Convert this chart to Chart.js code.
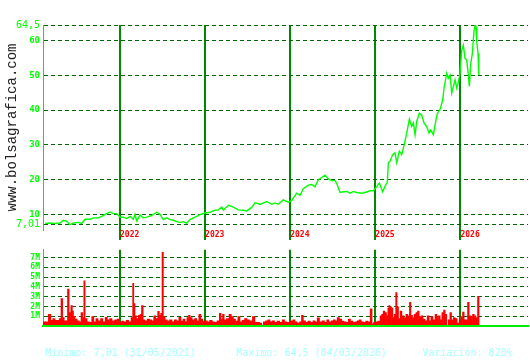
<!DOCTYPE html>
<html>
<head>
<meta charset="utf-8">
<script src="https://cdn.jsdelivr.net/npm/chart.js@4"></script>
<style>
  body{margin:0;background:#fff;width:530px;height:360px;overflow:hidden;position:relative;}
  #precio{position:absolute;left:0;top:0;}
  #vol{position:absolute;left:0;top:242px;}
  .pie{position:absolute;top:347px;font-family:'DejaVu Sans Mono',monospace;font-size:10px;line-height:12px;color:#a8ffff;white-space:pre;}
</style>
</head>
<body>
<canvas id="precio" width="530" height="242"></canvas>
<canvas id="vol" width="530" height="92"></canvas>
<div class="pie" style="left:45px">Minimo: 7,01 (31/05/2021)</div>
<div class="pie" style="left:236px">Maximo: 64,5 (04/03/2026)</div>
<div class="pie" style="left:422px">Variación: 820%</div>
<script>
// fechas en años decimales
let fechas = [
  2021.119,2021.177,2021.236,2021.295,2021.334,2021.374,2021.412,2021.451,2021.510,2021.550,
  2021.589,2021.647,2021.686,2021.745,2021.785,2021.824,2021.882,2021.921,2021.961,2022.000,
  2022.039,2022.079,2022.118,2022.156,2022.176,2022.196,2022.235,2022.274,2022.314,2022.373,
  2022.431,2022.470,2022.509,2022.549,2022.588,2022.626,2022.666,2022.705,2022.744,2022.784,
  2022.823,2022.861,2022.901,2022.940,2022.999,2023.058,2023.116,2023.155,2023.195,2023.214,
  2023.273,2023.331,2023.390,2023.449,2023.489,2023.548,2023.586,2023.645,2023.724,2023.783,
  2023.821,2023.860,2023.919,2023.978,2024.018,2024.076,2024.115,2024.154,2024.213,2024.253,
  2024.291,2024.330,2024.370,2024.409,2024.448,2024.488,2024.526,2024.546,2024.585,2024.624,
  2024.664,2024.703,2024.742,2024.781,2024.840,2024.879,2024.938,2024.977,2025.016,2025.047,
  2025.087,2025.114,2025.141,2025.153,2025.173,2025.204,2025.231,2025.252,2025.282,2025.310,
  2025.337,2025.369,2025.400,2025.428,2025.447,2025.467,2025.487,2025.517,2025.545,2025.572,
  2025.604,2025.631,2025.651,2025.682,2025.710,2025.729,2025.760,2025.792,2025.807,2025.839,
  2025.858,2025.878,2025.898,2025.917,2025.937,2025.957,2025.975,2025.995,2026.015,2026.034,
  2026.054,2026.074,2026.093,2026.105,2026.121,2026.140,2026.160,2026.175,2026.183,2026.192,
  2026.207,2026.215
];
let precios = [
  7.4,7.5,7.4,7.5,8.3,8.0,7.01,7.5,7.7,7.4,
  8.6,8.6,9.0,9.0,9.4,10.0,10.7,10.2,10.2,9.2,
  9.2,8.8,9.4,8.6,10.0,8.1,9.8,9.0,9.2,9.7,
  10.6,10.0,8.5,9.0,8.5,8.3,7.9,7.7,7.9,7.5,
  8.5,9.0,9.4,9.9,10.4,10.6,11.2,11.3,12.1,11.2,
  12.6,12.1,11.3,11.2,11.0,12.0,13.3,12.9,13.7,12.9,
  13.3,12.9,14.2,13.5,14.0,16.1,15.5,17.4,18.4,18.6,
  17.9,20.0,20.6,21.3,20.2,19.7,19.7,19.0,16.3,16.5,
  16.6,16.1,16.6,16.3,16.1,16.3,16.8,16.8,18.0,19.0,
  16.5,18.1,19.3,24.9,25.3,27.2,27.7,24.9,28.2,27.2,
  29.8,33.4,37.4,35.3,36.3,32.9,36.8,39.1,38.6,36.3,
  35.3,33.4,34.3,32.9,36.8,39.1,40.1,42.9,46.3,50.6,
  49.2,50.1,44.9,46.8,48.7,46.3,47.9,50.6,57.2,58.7,
  54.9,54.4,50.1,46.8,53.4,56.3,62.9,64.5,64.0,59.6,
  56.3,50.1
];
let fechasVol = [
  2021.107,2021.139,2021.177,2021.197,2021.224,2021.248,2021.275,2021.295,2021.318,2021.334,
  2021.354,2021.374,2021.392,2021.412,2021.432,2021.448,2021.459,2021.483,2021.510,2021.530,
  2021.553,2021.569,2021.580,2021.600,2021.627,2021.656,2021.679,2021.706,2021.726,2021.757,
  2021.785,2021.812,2021.839,2021.863,2021.891,2021.921,2021.953,2021.980,2022.004,2022.032,
  2022.059,2022.086,2022.118,2022.141,2022.156,2022.168,2022.184,2022.203,2022.227,2022.243,
  2022.262,2022.282,2022.306,2022.333,2022.361,2022.384,2022.408,2022.431,2022.455,2022.470,
  2022.485,2022.502,2022.517,2022.541,2022.568,2022.596,2022.626,2022.650,2022.678,2022.705,
  2022.729,2022.752,2022.776,2022.796,2022.814,2022.834,2022.861,2022.890,2022.913,2022.940,
  2022.960,2022.987,2023.014,2023.038,2023.069,2023.096,2023.125,2023.155,2023.179,2023.195,
  2023.214,2023.234,2023.266,2023.296,2023.320,2023.343,2023.371,2023.398,2023.422,2023.449,
  2023.477,2023.508,2023.536,2023.575,2023.595,2023.625,2023.657,2023.672,2023.696,2023.724,
  2023.751,2023.774,2023.801,2023.830,2023.860,2023.892,2023.919,2023.947,2023.971,2023.989,
  2024.018,2024.045,2024.068,2024.095,2024.123,2024.142,2024.166,2024.194,2024.221,2024.253,
  2024.280,2024.303,2024.330,2024.358,2024.389,2024.417,2024.441,2024.468,2024.495,2024.518,
  2024.538,2024.565,2024.593,2024.617,2024.644,2024.671,2024.695,2024.723,2024.750,2024.773,
  2024.800,2024.820,2024.847,2024.875,2024.899,2024.926,2024.953,2024.970,2024.988,2025.016,
  2025.044,2025.067,2025.082,2025.102,2025.122,2025.141,2025.153,2025.165,2025.181,2025.200,
  2025.212,2025.231,2025.247,2025.263,2025.282,2025.302,2025.322,2025.349,2025.369,2025.393,
  2025.408,2025.428,2025.447,2025.467,2025.487,2025.505,2025.525,2025.549,2025.572,2025.596,
  2025.623,2025.643,2025.663,2025.690,2025.713,2025.733,2025.752,2025.772,2025.792,2025.811,
  2025.831,2025.846,2025.866,2025.886,2025.905,2025.928,2025.948,2025.975,2025.995,2026.015,
  2026.034,2026.054,2026.074,2026.093,2026.113,2026.133,2026.152,2026.172,2026.192,2026.210
];
// volumen en millones
let volumen = [
  0.43,0.43,1.2,0.57,0.77,0.57,0.57,0.77,2.8,0.87,
  0.53,0.53,3.77,1.37,2.1,1.53,1.0,0.7,0.53,0.43,
  1.37,0.87,4.63,0.77,0.43,0.37,0.97,0.43,0.77,0.53,
  0.77,0.43,0.9,0.63,0.77,0.53,0.63,0.7,0.43,0.5,
  0.43,0.57,0.43,0.87,4.37,2.3,1.03,0.77,1.1,1.2,
  2.1,0.63,0.53,0.7,0.63,0.53,1.03,0.77,1.5,1.1,
  1.3,7.53,0.97,0.63,0.53,0.63,0.43,0.63,0.53,0.9,
  0.5,0.7,0.43,0.87,1.1,0.87,0.63,0.77,0.53,1.2,
  0.7,0.5,0.53,0.43,0.57,0.43,0.37,0.53,1.3,0.7,
  1.2,0.63,0.77,1.2,0.97,0.7,0.5,0.97,0.43,0.57,
  0.77,0.63,0.53,0.97,0.37,0.37,0.3,0.1,0.43,0.53,
  0.63,0.43,0.53,0.37,0.5,0.37,0.63,0.43,0.37,0.37,
  0.53,0.63,0.43,0.3,0.43,1.1,0.53,0.37,0.5,0.37,
  0.53,0.43,0.83,0.43,0.53,0.37,0.63,0.43,0.53,0.63,
  0.53,0.87,0.7,0.5,0.43,0.37,0.7,0.5,0.37,0.43,
  0.53,0.63,0.43,0.37,0.5,0.43,1.77,0.23,0.37,0.43,
  0.5,1.03,1.2,1.53,1.37,1.03,1.83,2.1,1.97,1.83,
  0.87,1.2,3.43,1.97,0.77,1.53,1.03,0.87,1.2,1.03,
  2.43,1.1,0.87,1.2,1.37,1.53,0.97,1.03,0.7,0.53,
  1.03,0.53,0.97,0.63,1.2,0.87,1.03,0.63,1.37,1.63,
  1.2,0.03,0.63,1.37,0.63,0.87,0.77,0.3,0.63,0.97,
  1.43,0.63,0.63,2.43,1.03,0.97,1.2,1.03,0.87,3.03
];
let anios = [2022, 2023, 2024, 2025, 2026];
let ticksPrecio = [7.01, 10, 20, 30, 40, 50, 60, 64.5];
let ticksVol = [1, 2, 3, 4, 5, 6, 7];

let fuente = "'DejaVu Sans Mono'";
let desde = 2021.095;
let hasta = 2026.794;

let ctx = document.getElementById("precio").getContext("2d");
let grafica = new Chart(ctx, {
  type: "line",
  data: {
    datasets: [{
      data: fechas.map((f, i) => ({x: f, y: precios[i]})),
      borderColor: "#00ff00",
      borderWidth: 1.4,
      pointRadius: 0,
      tension: 0
    }]
  },
  options: {
    responsive: false,
    animation: false,
    layout: {padding: {top: 25, right: 2, left: 0, bottom: 0}},
    plugins: {legend: {display: false}, tooltip: {enabled: false}},
    scales: {
      x: {
        type: "linear",
        min: desde,
        max: hasta,
        afterBuildTicks: s => { s.ticks = anios.map(a => ({value: a})); },
        afterFit: s => { s.height = 12; },
        ticks: {
          align: "start",
          padding: -10,
          color: "#ff0000",
          maxRotation: 0,
          autoSkip: false,
          font: {family: fuente, size: 8, weight: "bold"},
          callback: v => String(v)
        },
        grid: {color: "#008800", lineWidth: 2, tickLength: 10, tickColor: "#008800", tickWidth: 2},
        border: {display: false}
      },
      y: {
        min: 5.5,
        max: 64.5,
        afterBuildTicks: s => { s.ticks = ticksPrecio.map(v => ({value: v})); },
        afterFit: s => { s.width = 43; },
        ticks: {
          color: "#00ff00",
          padding: 3,
          autoSkip: false,
          font: c => (c.tick && (c.tick.value == 7.01 || c.tick.value == 64.5))
            ? {family: fuente, size: 10}
            : {family: fuente, size: 9, weight: "bold"},
          callback: v => String(v).replace(".", ",")
        },
        grid: {color: "#006600", lineWidth: 1, drawTicks: false},
        border: {color: "#00ee00", width: 1, dash: [4, 3]},
        title: {
          display: true,
          text: "www.bolsagrafica.com",
          color: "#222222",
          font: {family: "'Liberation Mono'", size: 14},
          padding: {top: 4, bottom: 0}
        }
      }
    }
  }
});

let ctx2 = document.getElementById("vol").getContext("2d");
let graficaVol = new Chart(ctx2, {
  type: "bar",
  data: {
    datasets: [{
      data: fechasVol.map((f, i) => ({x: f, y: volumen[i]})),
      backgroundColor: "#ff0000",
      borderWidth: 0,
      barThickness: "flex",
      barPercentage: 1,
      categoryPercentage: 1
    }]
  },
  options: {
    responsive: false,
    animation: false,
    layout: {padding: {top: 6, right: 2, left: 0, bottom: 0}},
    plugins: {legend: {display: false}, tooltip: {enabled: false}},
    scales: {
      x: {
        type: "linear",
        offset: false,
        min: desde,
        max: hasta,
        afterBuildTicks: s => { s.ticks = anios.map(a => ({value: a})); },
        afterFit: s => { s.height = 8; },
        ticks: {display: false},
        grid: {offset: false, color: "#008800", lineWidth: 2, drawTicks: false},
        border: {color: "#00ee00", width: 2, z: 1}
      },
      y: {
        min: 0,
        max: 7.8,
        afterBuildTicks: s => { s.ticks = ticksVol.map(v => ({value: v})); },
        afterFit: s => { s.width = 43; },
        ticks: {
          color: "#00ff00",
          padding: 3,
          autoSkip: false,
          font: {family: fuente, size: 8, weight: "bold"},
          callback: v => v + "M"
        },
        grid: {color: "#006600", lineWidth: 1, drawTicks: false},
        border: {color: "#00ee00", width: 1, dash: [4, 3]}
      }
    }
  }
});
</script>
</body>
</html>
